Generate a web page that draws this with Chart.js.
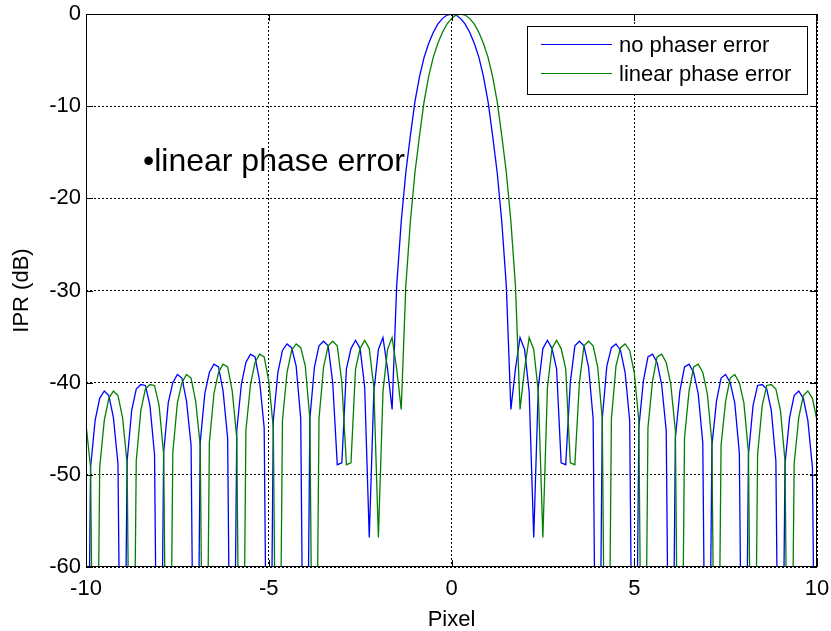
<!DOCTYPE html>
<html>
<head>
<meta charset="utf-8">
<script src="https://cdn.jsdelivr.net/npm/chart.js@4.4.1/dist/chart.umd.min.js"></script>
<style>
html,body{margin:0;padding:0;background:#ffffff;}
canvas{display:block;}
</style>
</head>
<body>
<canvas id="c" width="831" height="631"></canvas>
<script>
// ---- data ----
const pixelX = [
-10,-9.875,-9.75,-9.625,-9.5,-9.375,-9.25,-9.125,
-9,-8.875,-8.75,-8.625,-8.5,-8.375,-8.25,-8.125,
-8,-7.875,-7.75,-7.625,-7.5,-7.375,-7.25,-7.125,
-7,-6.875,-6.75,-6.625,-6.5,-6.375,-6.25,-6.125,
-6,-5.875,-5.75,-5.625,-5.5,-5.375,-5.25,-5.125,
-5,-4.875,-4.75,-4.625,-4.5,-4.375,-4.25,-4.125,
-4,-3.875,-3.75,-3.625,-3.5,-3.375,-3.25,-3.125,
-3,-2.875,-2.75,-2.625,-2.5,-2.375,-2.25,-2.125,
-2,-1.875,-1.75,-1.625,-1.5,-1.375,-1.25,-1.125,
-1,-0.875,-0.75,-0.625,-0.5,-0.375,-0.25,-0.125,
0,0.125,0.25,0.375,0.5,0.625,0.75,0.875,
1,1.125,1.25,1.375,1.5,1.625,1.75,1.875,
2,2.125,2.25,2.375,2.5,2.625,2.75,2.875,
3,3.125,3.25,3.375,3.5,3.625,3.75,3.875,
4,4.125,4.25,4.375,4.5,4.625,4.75,4.875,
5,5.125,5.25,5.375,5.5,5.625,5.75,5.875,
6,6.125,6.25,6.375,6.5,6.625,6.75,6.875,
7,7.125,7.25,7.375,7.5,7.625,7.75,7.875,
8,8.125,8.25,8.375,8.5,8.625,8.75,8.875,
9,9.125,9.25,9.375,9.5,9.625,9.75,9.875,
10
];

const noPhaseErrorDb = [
-100,-49.2,-44.1,-41.7,-40.9,-41.4,-43.8,-48.8,
-100,-48.5,-43.0,-40.7,-40.2,-40.3,-42.5,-47.8,
-100,-47.6,-42.2,-40.0,-39.1,-39.5,-42.0,-46.8,
-100,-46.5,-41.2,-38.9,-38.0,-38.3,-40.9,-46.0,
-100,-45.2,-40.2,-37.8,-36.9,-37.2,-39.8,-44.9,
-100,-44.1,-38.9,-36.5,-35.8,-36.2,-38.2,-43.9,
-100,-43.9,-38.3,-36.0,-35.5,-36.0,-40.0,-48.9,
-48.7,-38.5,-36.3,-35.4,-36.3,-40.5,-56.8,-41.0,
-36.4,-35.1,-38.5,-42.9,-29.5,-22.5,-17.2,-13.2,
-9.5,-6.8,-4.7,-3.2,-2.0,-1.1,-0.5,-0.12,
0,-0.12,-0.5,-1.1,-2.0,-3.2,-4.7,-6.8,
-9.5,-13.2,-17.2,-22.5,-29.5,-42.9,-38.5,-35.1,
-36.4,-41.0,-56.8,-40.5,-36.3,-35.4,-36.3,-38.5,
-48.7,-48.9,-40.0,-36.0,-35.5,-36.0,-38.3,-43.9,
-100,-43.9,-38.2,-36.2,-35.8,-36.5,-38.9,-44.1,
-100,-44.9,-39.8,-37.2,-36.9,-37.8,-40.2,-45.2,
-100,-46.0,-40.9,-38.3,-38.0,-38.9,-41.2,-46.5,
-100,-46.8,-42.0,-39.5,-39.1,-40.0,-42.2,-47.6,
-100,-47.8,-42.5,-40.3,-40.2,-40.7,-43.0,-48.5,
-100,-48.8,-43.8,-41.4,-40.9,-41.7,-44.1,-49.2,
-100
];

const linearPhaseErrorDb = [
-44.5,-49.2,-100,-49.2,-44.1,-41.7,-40.9,-41.4,
-43.8,-48.8,-100,-48.5,-43.0,-40.7,-40.2,-40.3,
-42.5,-47.8,-100,-47.6,-42.2,-40.0,-39.1,-39.5,
-42.0,-46.8,-100,-46.5,-41.2,-38.9,-38.0,-38.3,
-40.9,-46.0,-100,-45.2,-40.2,-37.8,-36.9,-37.2,
-39.8,-44.9,-100,-44.1,-38.9,-36.5,-35.8,-36.2,
-38.2,-43.9,-100,-43.9,-38.3,-36.0,-35.5,-36.0,
-40.0,-48.9,-48.7,-38.5,-36.3,-35.4,-36.3,-40.5,
-56.8,-41.0,-36.4,-35.1,-38.5,-42.9,-29.5,-22.5,
-17.2,-13.2,-9.5,-6.8,-4.7,-3.2,-2.0,-1.1,
-0.5,-0.12,0,-0.12,-0.5,-1.1,-2.0,-3.2,
-4.7,-6.8,-9.5,-13.2,-17.2,-22.5,-29.5,-42.9,
-38.5,-35.1,-36.4,-41.0,-56.8,-40.5,-36.3,-35.4,
-36.3,-38.5,-48.7,-48.9,-40.0,-36.0,-35.5,-36.0,
-38.3,-43.9,-100,-43.9,-38.2,-36.2,-35.8,-36.5,
-38.9,-44.1,-100,-44.9,-39.8,-37.2,-36.9,-37.8,
-40.2,-45.2,-100,-46.0,-40.9,-38.3,-38.0,-38.9,
-41.2,-46.5,-100,-46.8,-42.0,-39.5,-39.1,-40.0,
-42.2,-47.6,-100,-47.8,-42.5,-40.3,-40.2,-40.7,
-43.0,-48.5,-100,-48.8,-43.8,-41.4,-40.9,-41.7,
-44.1
];

const seriesNames = ['no phaser error', 'linear phase error'];
const seriesColors = ['#0000ff', '#008000'];
const xTickValues = [-10, -5, 0, 5, 10];
const yTickValues = [0, -10, -20, -30, -40, -50, -60];
const xAxisTitle = 'Pixel';
const yAxisTitle = 'IPR (dB)';
const annotationText = '\u2022linear phase error';

// ---- chart ----
const FONT = "'Liberation Sans', Arial, Helvetica, sans-serif";
Chart.defaults.font.family = FONT;
Chart.defaults.color = '#000000';

function toPoints(xs, ys) { return xs.map((x, i) => ({ x: x, y: ys[i] })); }
function noScalePadding(s) { s.paddingLeft = 0; s.paddingRight = 0; s.paddingTop = 0; s.paddingBottom = 0; }

const matlabDecor = {
  id: 'matlabDecor',
  afterDraw(chart) {
    const ctx = chart.ctx;
    const a = chart.chartArea;
    const xs = chart.scales.x, ys = chart.scales.y;
    ctx.save();
    // axes box
    ctx.strokeStyle = '#000000';
    ctx.lineWidth = 1;
    ctx.setLineDash([]);
    ctx.strokeRect(a.left + 0.5, a.top + 0.5, a.right - a.left - 1, a.bottom - a.top - 1);
    // inward ticks on all four sides
    const L = 7;
    ctx.beginPath();
    xTickValues.forEach(v => {
      const px = Math.round(xs.getPixelForValue(v)) + 0.5;
      ctx.moveTo(px, a.bottom); ctx.lineTo(px, a.bottom - L);
      ctx.moveTo(px, a.top); ctx.lineTo(px, a.top + L);
    });
    yTickValues.forEach(v => {
      const py = Math.round(ys.getPixelForValue(v)) + 0.5;
      ctx.moveTo(a.left, py); ctx.lineTo(a.left + L, py);
      ctx.moveTo(a.right, py); ctx.lineTo(a.right - L, py);
    });
    ctx.stroke();

    // annotation text
    ctx.fillStyle = '#000000';
    ctx.font = '32px ' + FONT;
    ctx.textAlign = 'left';
    ctx.textBaseline = 'alphabetic';
    ctx.fillText(annotationText, 143, 171);

    // legend box (inside axes, north-east)
    const bx = 527.5, by = 26.5, bw = 280, bh = 68;
    ctx.fillStyle = '#ffffff';
    ctx.fillRect(bx, by, bw, bh);
    ctx.strokeStyle = '#000000';
    ctx.strokeRect(bx, by, bw, bh);
    ctx.font = '22px ' + FONT;
    ctx.textBaseline = 'middle';
    const rowsY = [44.5, 73.5];
    seriesNames.forEach((name, i) => {
      ctx.strokeStyle = seriesColors[i];
      ctx.lineWidth = 1.2;
      ctx.beginPath();
      ctx.moveTo(541, rowsY[i]); ctx.lineTo(612, rowsY[i]);
      ctx.stroke();
      ctx.fillStyle = '#000000';
      ctx.fillText(name, 619, rowsY[i] + 1);
    });
    ctx.restore();
  }
};

new Chart(document.getElementById('c'), {
  type: 'line',
  data: {
    datasets: [
      { label: seriesNames[0], data: toPoints(pixelX, noPhaseErrorDb), borderColor: seriesColors[0],
        borderWidth: 1.3, pointRadius: 0, tension: 0, fill: false, order: 1 },
      { label: seriesNames[1], data: toPoints(pixelX, linearPhaseErrorDb), borderColor: seriesColors[1],
        borderWidth: 1.3, pointRadius: 0, tension: 0, fill: false, order: 0 }
    ]
  },
  options: {
    responsive: false,
    devicePixelRatio: 1,
    animation: false,
    events: [],
    layout: { padding: { top: 14, right: 14, left: 0, bottom: 0 } },
    plugins: { legend: { display: false }, tooltip: { enabled: false }, title: { display: false } },
    scales: {
      x: {
        type: 'linear', min: -10, max: 10,
        afterBuildTicks: s => { s.ticks = xTickValues.map(v => ({ value: v })); },
        ticks: { font: { size: 22 }, color: '#000', padding: 9, maxRotation: 0, autoSkip: false,
                 callback: v => String(v) },
        grid: { color: '#000', lineWidth: 1, drawTicks: false },
        border: { display: false, dash: [2, 2] },
        title: { display: true, text: xAxisTitle, font: { size: 22 }, color: '#000', padding: { top: 0, bottom: -2 } },
        afterFit: s => { s.height = 64; noScalePadding(s); }
      },
      y: {
        type: 'linear', min: -60, max: 0,
        afterBuildTicks: s => { s.ticks = yTickValues.map(v => ({ value: v })); },
        ticks: { font: { size: 22 }, color: '#000', padding: 5, autoSkip: false,
                 callback: v => String(v) },
        grid: { color: '#000', lineWidth: 1, drawTicks: false },
        border: { display: false, dash: [2, 2] },
        title: { display: true, text: yAxisTitle, font: { size: 22 }, color: '#000', padding: { top: 9, bottom: 0 } },
        afterFit: s => { s.width = 86; noScalePadding(s); }
      }
    }
  },
  plugins: [matlabDecor]
});
</script>
</body>
</html>
